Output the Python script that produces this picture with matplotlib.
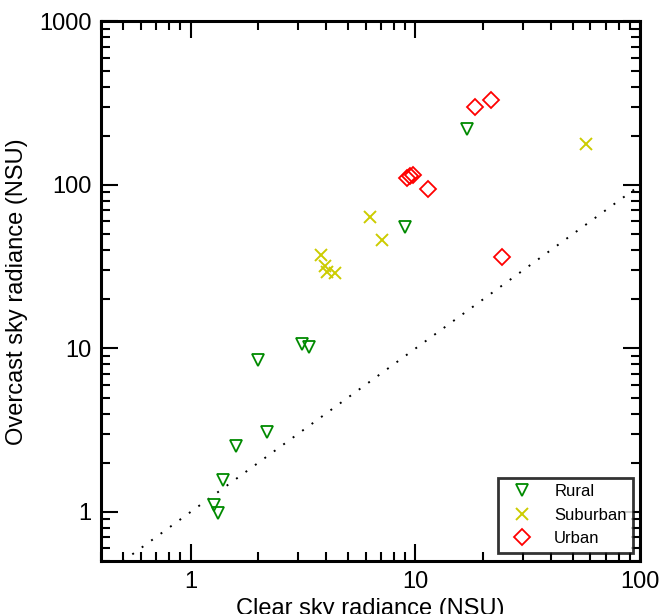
import matplotlib
matplotlib.use('Agg')
import matplotlib.pyplot as plt
from matplotlib.ticker import LogLocator, NullFormatter, FixedLocator, FixedFormatter

plt.rcParams['font.family'] = ['Liberation Sans', 'DejaVu Sans']

# clear sky vs overcast sky radiance (NSU)
rural_clear = [16.9, 8.97, 3.12, 3.36, 2.0, 2.19, 1.59, 1.39, 1.27, 1.32]
rural_overcast = [219, 55.1, 10.7, 10.2, 8.5, 3.08, 2.54, 1.56, 1.1, 0.99]

suburban_clear = [57.2, 6.28, 7.08, 3.79, 3.95, 4.04, 4.38]
suburban_overcast = [179, 63.7, 45.9, 37.2, 31.8, 29.4, 29.0]

urban_clear = [21.6, 18.3, 9.17, 9.47, 9.74, 11.4, 24.2]
urban_overcast = [329, 301, 110.4, 113, 115.8, 95, 36.3]

line_x = [0.5, 100]

fig = plt.figure(figsize=(6.65, 6.14), dpi=100)
ax = fig.add_axes([0.152, 0.086, 0.811, 0.879])

ax.plot(line_x, line_x, color='black', linestyle=(0, (1, 5)), linewidth=1.4)

ax.plot(rural_clear, rural_overcast, 'v', mfc='none', mec='#008a00', mew=1.3,
        ms=9, linestyle='none', label='Rural')
ax.plot(suburban_clear, suburban_overcast, 'x', color='#cccc00', mew=1.4,
        ms=8, linestyle='none', label='Suburban')
ax.plot(urban_clear, urban_overcast, 'D', mfc='none', mec='#ff0000', mew=1.3,
        ms=8, linestyle='none', label='Urban')

ax.set_xscale('log')
ax.set_yscale('log')
ax.set_xlim(0.4, 100)
ax.set_ylim(0.5, 1000)

ax.xaxis.set_major_locator(FixedLocator([1, 10, 100]))
ax.xaxis.set_major_formatter(FixedFormatter(['1', '10', '100']))
ax.yaxis.set_major_locator(FixedLocator([1, 10, 100, 1000]))
ax.yaxis.set_major_formatter(FixedFormatter(['1', '10', '100', '1000']))
ax.xaxis.set_minor_locator(LogLocator(base=10, subs=range(2, 10)))
ax.yaxis.set_minor_locator(LogLocator(base=10, subs=range(2, 10)))
ax.xaxis.set_minor_formatter(NullFormatter())
ax.yaxis.set_minor_formatter(NullFormatter())

ax.tick_params(which='both', direction='in', top=True, right=True,
               width=1.5, labelsize=17, pad=7)
ax.tick_params(which='major', length=12.5)
ax.tick_params(which='minor', length=6.5)

for s in ax.spines.values():
    s.set_linewidth(2.2)

ax.set_xlabel('Clear sky radiance (NSU)', fontsize=17, labelpad=4)
ax.set_ylabel('Overcast sky radiance (NSU)', fontsize=17, labelpad=8)

leg = ax.legend(loc='lower right', bbox_to_anchor=(0.987, 0.016), fontsize=12,
                frameon=True, fancybox=False, edgecolor='black',
                handletextpad=0.9, borderpad=0.4, labelspacing=0.5,
                handlelength=2.1, borderaxespad=0)
leg.get_frame().set_linewidth(2)

fig.savefig('out.png', dpi=100)
